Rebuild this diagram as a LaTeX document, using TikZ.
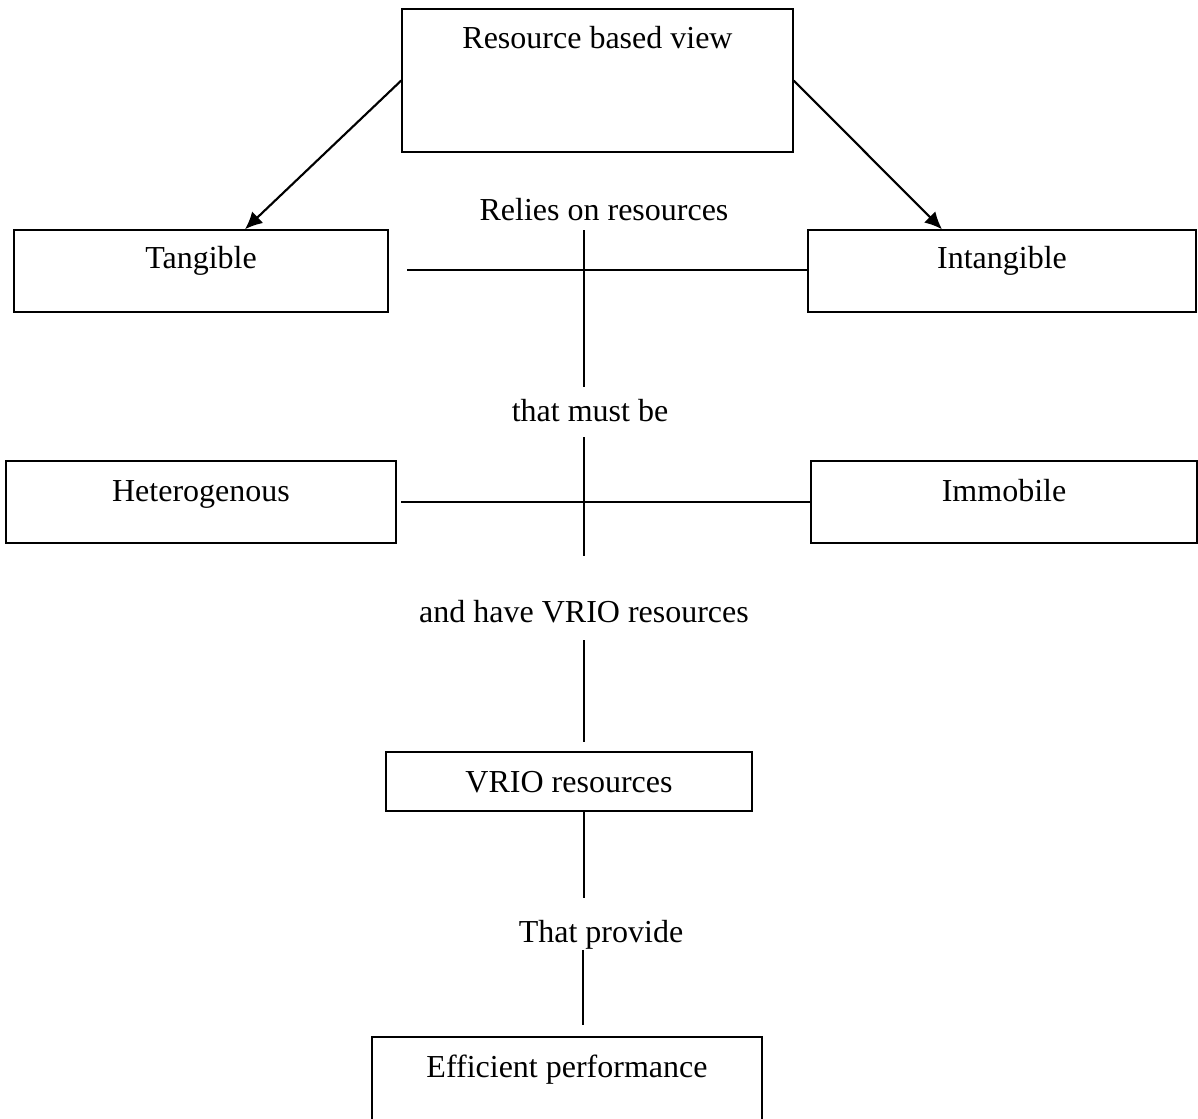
\documentclass[tikz,border=0pt]{standalone}
\usepackage{fontspec}
\setmainfont{Liberation Serif}
\usetikzlibrary{shapes,arrows.meta,positioning}
\tikzset{
  rbvbox/.style={draw, line width=1.1pt, inner sep=0pt, align=center},
  link/.style={line width=0.8pt},
  pointer/.style={line width=1.6pt, -{Latex[length=13pt,width=12pt]}},
  phrase/.style={anchor=base, inner sep=0pt}
}

\begin{document}
\begin{tikzpicture}[x=0.75pt, y=-0.75pt, font=\fontsize{24}{28}\selectfont]
    \useasboundingbox (0,0) rectangle (1198,1118);

    % Boxes
    \node[rbvbox, minimum width=293.25pt, text height=29.25pt, text depth=78pt] (rbv) at (597.5,80.5) {Resource based view};
    \node[rbvbox, minimum width=280.5pt, text height=28.5pt, text depth=33pt] (tang) at (201,271) {Tangible};
    \node[rbvbox, minimum width=291pt, text height=28.5pt, text depth=33pt] (intang) at (1002,271) {Intangible};
    \node[rbvbox, minimum width=292.5pt, text height=30pt, text depth=31.5pt] (het) at (201,502) {Heterogenous};
    \node[rbvbox, minimum width=289.5pt, text height=30pt, text depth=31.5pt] (immob) at (1004,502) {Immobile};
    \node[rbvbox, minimum width=274.5pt, text height=30pt, text depth=14.25pt] (vrio) at (569,781.5) {VRIO resources};
    \node[rbvbox, minimum width=292.5pt, text height=30pt, text depth=35.25pt] (eff) at (567,1080.5) {Efficient performance};

    % Phrases between the boxes
    \node[phrase] (relies) at (604,220) {Relies on resources};
    \node[phrase] (mustbe) at (590,421) {that must be};
    \node[phrase] (havevrio) at (584,622) {and have VRIO resources};
    \node[phrase] (provide) at (601,942) {That provide};

    % Line ends
    \coordinate (h1) at (407,270);
    \coordinate (v1a) at (584,230);
    \coordinate (v1b) at (584,387);
    \coordinate (h2) at (401,502);
    \coordinate (v2a) at (584,437);
    \coordinate (v2b) at (584,556);
    \coordinate (v3a) at (584,640);
    \coordinate (v3b) at (584,742);
    \coordinate (v4b) at (584,898);
    \coordinate (v5a) at (583,950);
    \coordinate (v5b) at (583,1025);

    % Arrows from the top box
    \draw[pointer] (rbv.west) -- ([xshift=33pt]tang.north);
    \draw[pointer] (rbv.east) -- ([xshift=-45pt]intang.north);

    % Crosses and stems
    \draw[link] (h1) -- (h1 -| intang.west);
    \draw[link] (v1a) -- (v1b);
    \draw[link] (h2) -- (h2 -| immob.west);
    \draw[link] (v2a) -- (v2b);
    \draw[link] (v3a) -- (v3b);
    \draw[link] (vrio.south -| v4b) -- (v4b);
    \draw[link] (v5a) -- (v5b);
\end{tikzpicture}
\end{document}
